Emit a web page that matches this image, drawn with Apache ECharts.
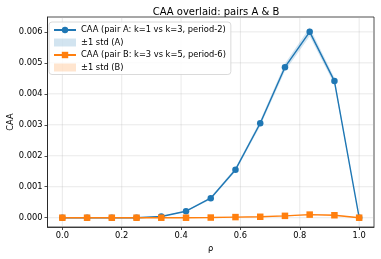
<!DOCTYPE html>
<html><head><meta charset="utf-8">
<script src="https://cdn.jsdelivr.net/npm/echarts@6/dist/echarts.min.js"></script>
<style>html,body{margin:0;padding:0;background:#fff}#c{width:381px;height:259px}</style>
</head><body><div id="c"></div>
<script>
const pValues = [0, 1/12, 2/12, 3/12, 4/12, 5/12, 6/12, 7/12, 8/12, 9/12, 10/12, 11/12, 1];
const caaA = [0, 0, 0, 0, 0.00004, 0.00021, 0.00063, 0.00155, 0.00305, 0.00486, 0.006, 0.00441, 0];
const stdA = [0, 0, 0, 0, 0.00001, 0.00002, 0.00004, 0.00006, 0.00009, 0.00012, 0.00014, 0.00011, 0];
const caaB = [0, 0, 0, 0, 0, 0, 0.000005, 0.00002, 0.00003, 0.00006, 0.0001, 0.00008, 0];
const stdB = [0, 0, 0, 0, 0, 0, 0.000005, 0.00001, 0.00001, 0.00002, 0.00002, 0.00002, 0];
const xTicks = [0, 0.2, 0.4, 0.6, 0.8, 1.0];
const yTicks = [0, 0.001, 0.002, 0.003, 0.004, 0.005, 0.006];

const blue = '#1f77b4', orange = '#ff7f0e';
const font = 'DejaVu Sans';
const pair = (xs, ys) => xs.map((x, i) => [x, ys[i]]);
const bandData = (vals, std) => pValues.map((x, i) => [x, vals[i] - std[i], vals[i] + std[i]]);

function bandRender(data, fill) {
  return function (params, api) {
    if (params.dataIndex !== 0) return null;
    const upper = data.map(d => api.coord([d[0], d[2]]));
    const lower = data.map(d => api.coord([d[0], d[1]])).reverse();
    return {type: 'polygon', shape: {points: upper.concat(lower)}, style: {fill: fill}, silent: true};
  };
}
const bandA = bandData(caaA, stdA), bandB = bandData(caaB, stdB);

const chart = echarts.init(document.getElementById('c'), null, {renderer: 'canvas'});
chart.setOption({
  animation: false,
  title: {text: 'CAA overlaid: pairs A & B', left: 211, top: 2, textAlign: 'center',
    textStyle: {fontFamily: font, fontSize: 10, fontWeight: 'normal', color: '#000'}},
  grid: {left: 47.5, right: 7, top: 17, bottom: 32, show: true, borderColor: '#222', borderWidth: 0.8,
    backgroundColor: 'transparent', outerBoundsMode: 'none', containLabel: false},
  legend: {
    orient: 'vertical', left: 49, top: 22, itemWidth: 22, itemHeight: 8, itemGap: 4.5,
    padding: [4, 5, 3, 4], backgroundColor: 'rgba(255,255,255,0.85)', borderColor: '#d0d0d0', borderWidth: 0.8, borderRadius: 3,
    textStyle: {fontFamily: font, fontSize: 8.3, color: '#000'},
    data: [
      {name: 'CAA (pair A: k=1 vs k=3, period-2)'},
      {name: '±1 std (A)', icon: 'rect', itemStyle: {color: 'rgba(31,119,180,0.2)'}},
      {name: 'CAA (pair B: k=3 vs k=5, period-6)'},
      {name: '±1 std (B)', icon: 'rect', itemStyle: {color: 'rgba(255,127,14,0.2)'}}
    ]
  },
  xAxis: {
    type: 'value', min: -0.05, max: 1.05,
    name: 'ρ', nameLocation: 'middle', nameGap: 18, nameMoveOverlap: false,
    nameTextStyle: {fontFamily: font, fontSize: 8.3, color: '#000'},
    axisLine: {show: true, onZero: false, lineStyle: {color: '#222', width: 0.8}},
    axisTick: {show: true, length: 3, lineStyle: {color: '#222', width: 0.8}, customValues: xTicks},
    axisLabel: {fontFamily: font, fontSize: 8.3, color: '#000', margin: 5,
      customValues: xTicks, formatter: v => v.toFixed(1)},
    splitLine: {show: false},
  },
  yAxis: {
    type: 'value', min: -0.0003, max: 0.00648,
    name: 'CAA', nameLocation: 'middle', nameGap: 33, nameRotate: 90, nameMoveOverlap: false,
    nameTextStyle: {fontFamily: font, fontSize: 8.3, color: '#000'},
    axisLine: {show: true, onZero: false, lineStyle: {color: '#222', width: 0.8}},
    axisTick: {show: true, length: 3, lineStyle: {color: '#222', width: 0.8}, customValues: yTicks},
    axisLabel: {fontFamily: font, fontSize: 8.3, color: '#000', margin: 5,
      customValues: yTicks, formatter: v => v.toFixed(3)},
    splitLine: {show: false},
  },
  series: [
    {type: 'custom', name: 'gridX', silent: true, z: 0, data: [[0, 0]],
      renderItem: (params, api) => {
        if (params.dataIndex !== 0) return null;
        const ch = [];
        xTicks.forEach(t => {
          const a = api.coord([t, -0.0003]), b = api.coord([t, 0.00648]);
          ch.push({type: 'line', shape: {x1: a[0], y1: a[1], x2: b[0], y2: b[1]}, style: {stroke: 'rgba(176,176,176,0.35)', lineWidth: 0.8}});
        });
        yTicks.forEach(t => {
          const a = api.coord([-0.05, t]), b = api.coord([1.05, t]);
          ch.push({type: 'line', shape: {x1: a[0], y1: a[1], x2: b[0], y2: b[1]}, style: {stroke: 'rgba(176,176,176,0.35)', lineWidth: 0.8}});
        });
        return {type: 'group', children: ch};
      }},
    {type: 'custom', name: '±1 std (A)', data: bandA, renderItem: bandRender(bandA, 'rgba(31,119,180,0.2)'),
      itemStyle: {color: 'rgba(31,119,180,0.2)'}, z: 1, encode: {x: 0, y: [1, 2]}},
    {type: 'custom', name: '±1 std (B)', data: bandB, renderItem: bandRender(bandB, 'rgba(255,127,14,0.2)'),
      itemStyle: {color: 'rgba(255,127,14,0.2)'}, z: 1, encode: {x: 0, y: [1, 2]}},
    {type: 'line', name: 'CAA (pair A: k=1 vs k=3, period-2)', data: pair(pValues, caaA), symbol: 'circle', symbolSize: 6.5,
      showAllSymbol: true, lineStyle: {color: blue, width: 1.4}, itemStyle: {color: blue}, z: 3},
    {type: 'line', name: 'CAA (pair B: k=3 vs k=5, period-6)', data: pair(pValues, caaB), symbol: 'rect', symbolSize: 6.5,
      showAllSymbol: true, lineStyle: {color: orange, width: 1.4}, itemStyle: {color: orange}, z: 4}
  ]
});
</script></body></html>
